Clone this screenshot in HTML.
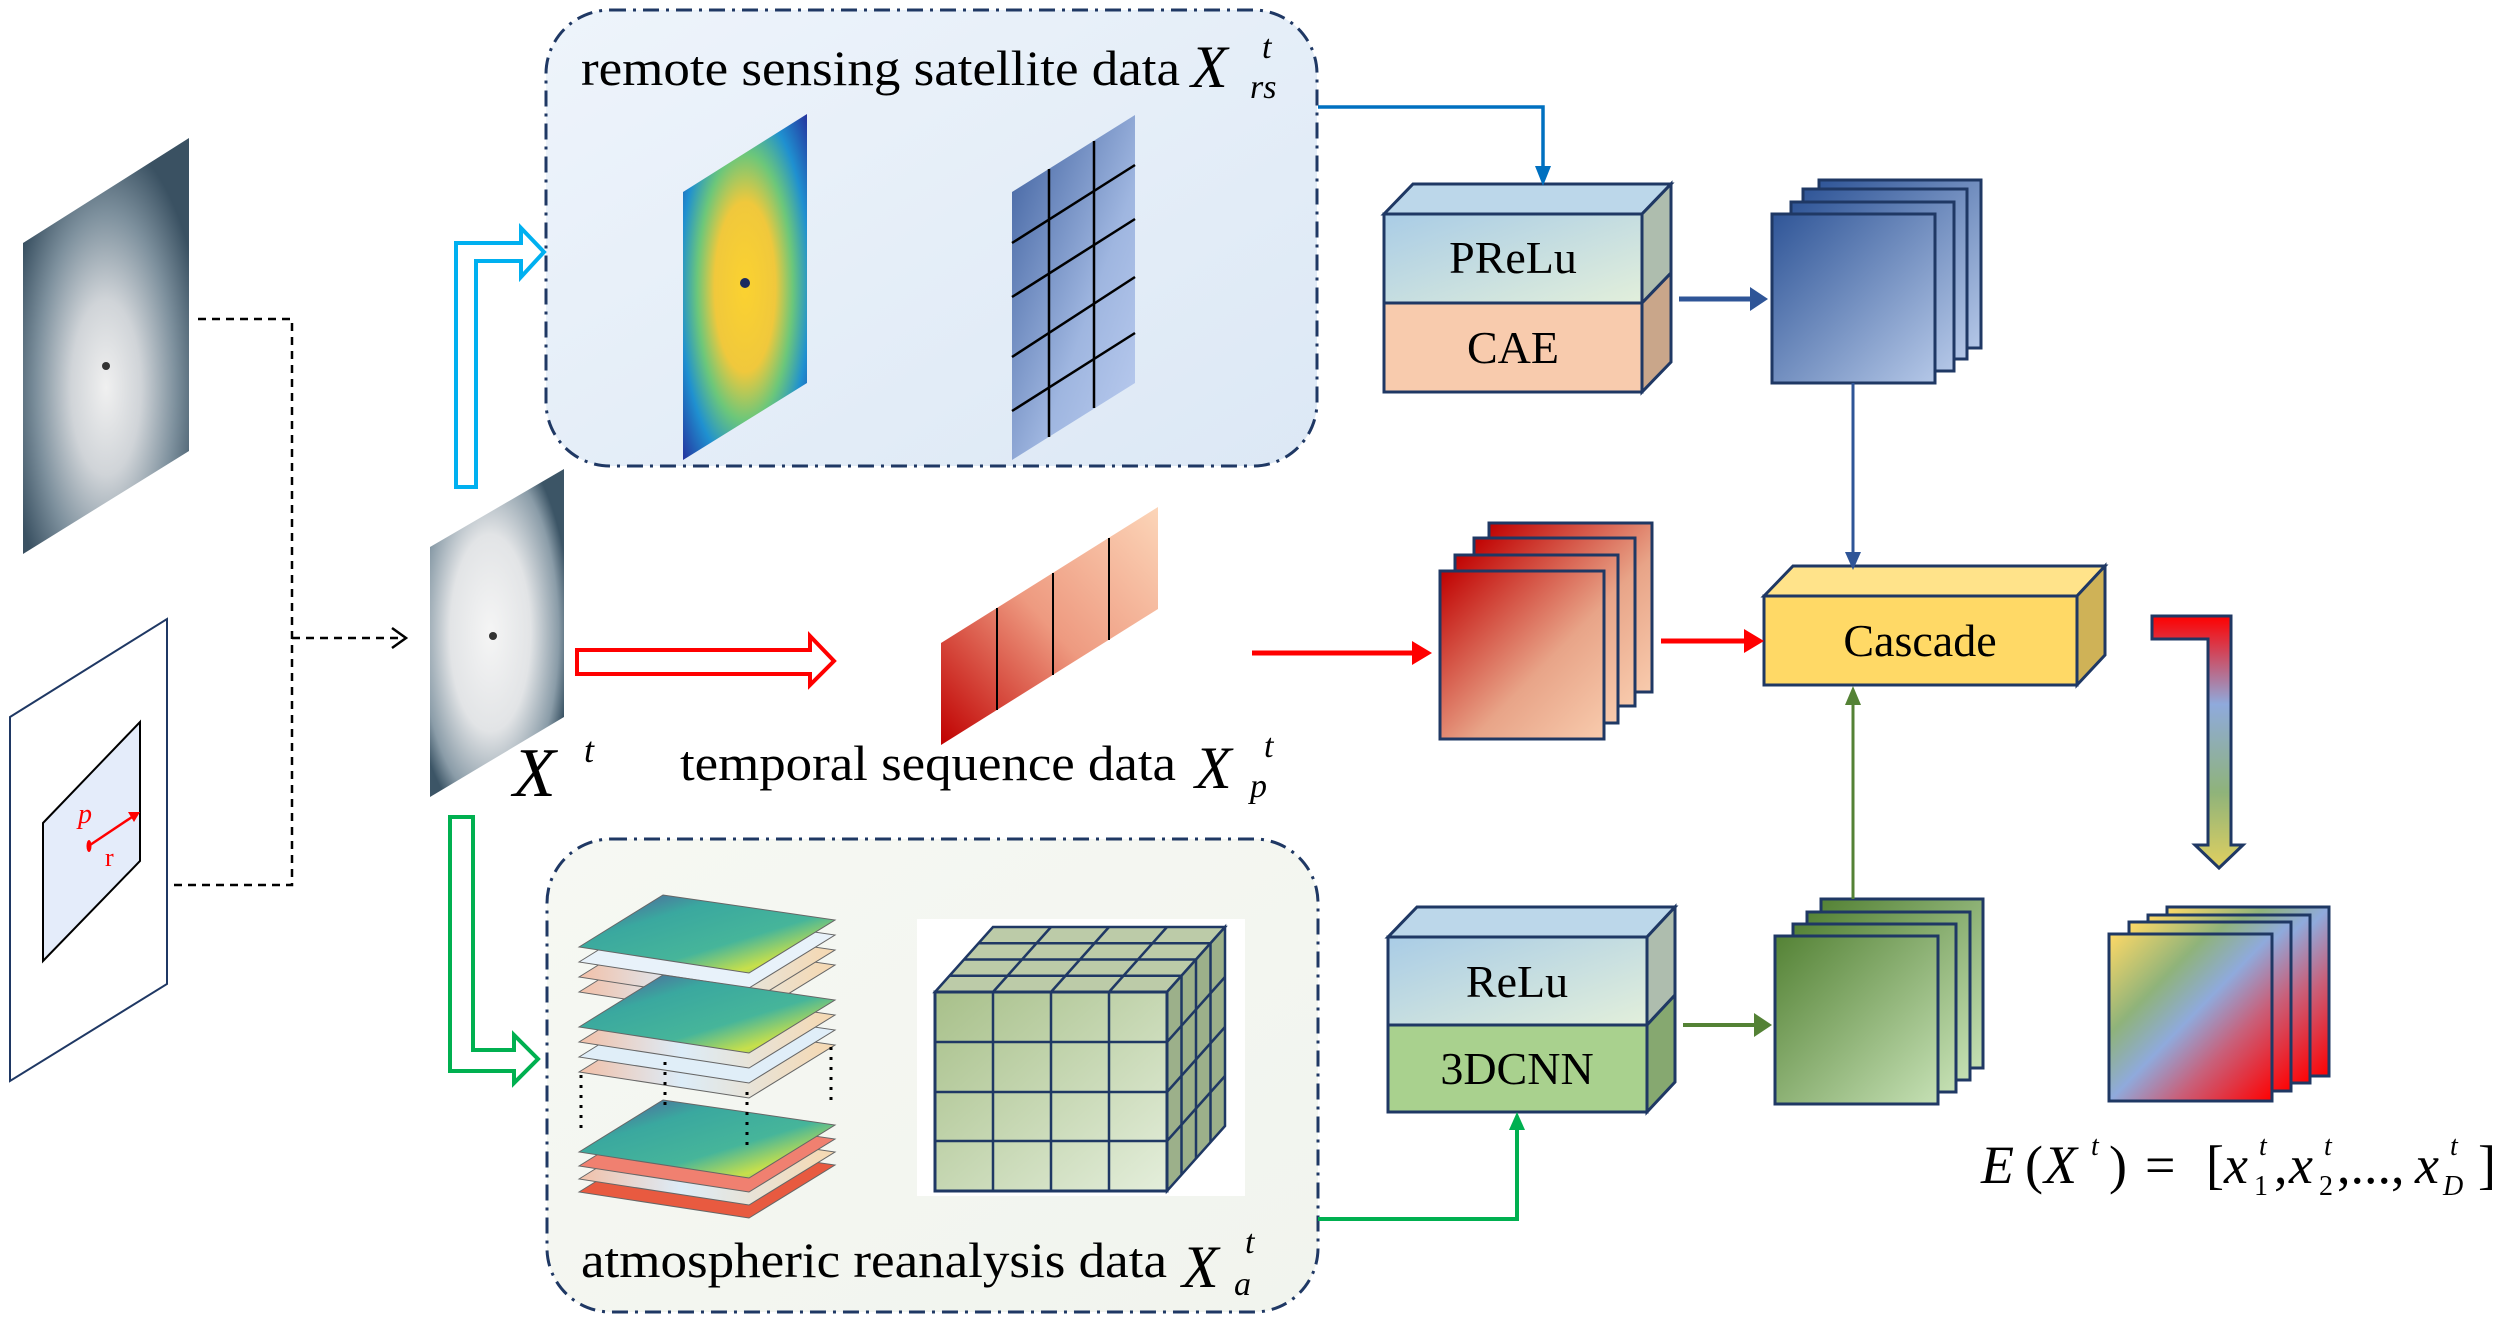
<!DOCTYPE html>
<html><head><meta charset="utf-8"><style>
html,body{margin:0;padding:0;background:#fff;}
svg{display:block;}
text{font-family:"Liberation Serif",serif;}
</style></head><body>
<svg width="2500" height="1321" viewBox="0 0 2500 1321" xmlns="http://www.w3.org/2000/svg">
<defs>
<linearGradient id="bgTop" x1="0" y1="0" x2="1" y2="1"><stop offset="0" stop-color="#eef4fb"/><stop offset="1" stop-color="#dce8f5"/></linearGradient>
<linearGradient id="bgBot" x1="0" y1="0" x2="1" y2="1"><stop offset="0" stop-color="#f6f8f3"/><stop offset="1" stop-color="#f1f4ee"/></linearGradient>
<radialGradient id="hur" cx="0.5" cy="0.6" r="0.6"><stop offset="0" stop-color="#f0f0f0"/><stop offset="0.35" stop-color="#d0d4d8"/><stop offset="0.7" stop-color="#7d909d"/><stop offset="1" stop-color="#3a5162"/></radialGradient>
<radialGradient id="hur2" cx="0.45" cy="0.5" r="0.6"><stop offset="0" stop-color="#f5f5f5"/><stop offset="0.5" stop-color="#e2e4e6"/><stop offset="0.85" stop-color="#8a9ca8"/><stop offset="1" stop-color="#3c5566"/></radialGradient>
<radialGradient id="sat" cx="0.5" cy="0.5" r="0.7"><stop offset="0" stop-color="#fbd230"/><stop offset="0.35" stop-color="#f0c83c"/><stop offset="0.55" stop-color="#6cc77a"/><stop offset="0.75" stop-color="#1f90d0"/><stop offset="1" stop-color="#2536a0"/></radialGradient>
<linearGradient id="gridG" x1="0" y1="0" x2="1" y2="1"><stop offset="0" stop-color="#3d5f9e"/><stop offset="0.6" stop-color="#9fb6e0"/><stop offset="1" stop-color="#bccdf0"/></linearGradient>
<linearGradient id="redP" x1="0" y1="1" x2="1" y2="0"><stop offset="0" stop-color="#c00000"/><stop offset="0.5" stop-color="#ee9a80"/><stop offset="1" stop-color="#fcd5b8"/></linearGradient>
<linearGradient id="blueS" x1="0" y1="0" x2="1" y2="1"><stop offset="0" stop-color="#2f5597"/><stop offset="1" stop-color="#b4c7e7"/></linearGradient>
<linearGradient id="redS" x1="0" y1="0" x2="1" y2="1"><stop offset="0" stop-color="#c00000"/><stop offset="0.6" stop-color="#e8a488"/><stop offset="1" stop-color="#f8cbad"/></linearGradient>
<linearGradient id="greenS" x1="0" y1="0" x2="1" y2="1"><stop offset="0" stop-color="#548235"/><stop offset="1" stop-color="#c5e0b4"/></linearGradient>
<linearGradient id="outS" x1="0" y1="0" x2="1" y2="1"><stop offset="0" stop-color="#ffd966"/><stop offset="0.3" stop-color="#8fb37a"/><stop offset="0.5" stop-color="#8faadc"/><stop offset="0.7" stop-color="#c8607a"/><stop offset="1" stop-color="#ff0000"/></linearGradient>
<linearGradient id="topFace" x1="0" y1="0" x2="1" y2="1"><stop offset="0" stop-color="#a9cce6"/><stop offset="1" stop-color="#e2efdb"/></linearGradient>
<linearGradient id="lArrow" x1="0" y1="0" x2="0" y2="1"><stop offset="0" stop-color="#ff0000"/><stop offset="0.35" stop-color="#8faadc"/><stop offset="0.7" stop-color="#8fb37a"/><stop offset="1" stop-color="#e0d060"/></linearGradient>
<linearGradient id="cubeF" x1="0" y1="0" x2="1" y2="1"><stop offset="0" stop-color="#a8c08a"/><stop offset="1" stop-color="#e4eedb"/></linearGradient>
<linearGradient id="teal" x1="0" y1="0" x2="1" y2="1"><stop offset="0" stop-color="#5a4f9a"/><stop offset="0.3" stop-color="#3aa89f"/><stop offset="0.6" stop-color="#46b59a"/><stop offset="0.8" stop-color="#c8e04a"/><stop offset="1" stop-color="#3aa89f"/></linearGradient>
<linearGradient id="layerG" x1="0" y1="0" x2="1" y2="0"><stop offset="0" stop-color="#f2c0a8"/><stop offset="0.4" stop-color="#dcecf8"/><stop offset="1" stop-color="#f6d8b0"/></linearGradient>
</defs>

<!-- Top box -->
<rect x="546" y="10" width="771" height="456" rx="64" fill="url(#bgTop)" stroke="#1f3864" stroke-width="3" stroke-dasharray="16 7 3 7"/>
<text x="581" y="85" font-size="50" textLength="599" lengthAdjust="spacingAndGlyphs">remote sensing satellite data</text>
<text x="1191" y="87" font-size="60" font-style="italic">X</text>
<text x="1262" y="58" font-size="34" font-style="italic">t</text>
<text x="1250" y="98" font-size="34" font-style="italic">rs</text>
<polygon points="683,192 807,114 807,383 683,460" fill="url(#sat)"/>
<circle cx="745" cy="283" r="5" fill="#1a2a60"/>
<polygon points="1012,192 1135,115 1135,383 1012,460" fill="url(#gridG)"/>
<g stroke="#000" stroke-width="2.5">
<line x1="1049" y1="169" x2="1049" y2="437"/><line x1="1094" y1="141" x2="1094" y2="408"/>
<line x1="1012" y1="243" x2="1135" y2="165"/><line x1="1012" y1="297" x2="1135" y2="219"/>
<line x1="1012" y1="357" x2="1135" y2="277"/><line x1="1012" y1="411" x2="1135" y2="333"/>
</g>

<!-- Left images -->
<polygon points="23,243 189,138 189,451 23,554" fill="url(#hur)"/>
<circle cx="106" cy="366" r="4" fill="#333"/>
<polygon points="10,717 167,619 167,984 10,1081" fill="#fff" stroke="#1f3864" stroke-width="2"/>
<polygon points="43,823 140,722 140,861 43,961" fill="#e4ecfa" stroke="#000" stroke-width="2"/>
<text x="78" y="823" font-size="28" fill="#f00" font-style="italic">p</text>
<text x="105" y="866" font-size="26" fill="#f00">r</text>
<line x1="90" y1="845" x2="135" y2="815" stroke="#f00" stroke-width="2.5"/>
<path d="M128,812 L140,812 L134,822z" fill="#f00"/>
<ellipse cx="89" cy="846" rx="2.5" ry="6" fill="#f00"/>

<!-- dashed connectors -->
<g stroke="#000" stroke-width="2.5" stroke-dasharray="8 6" fill="none">
<path d="M198,319 H292 V885 H172"/>
<path d="M292,638 H400"/>
</g>
<path d="M392,628 L406,638 L392,648" fill="none" stroke="#000" stroke-width="2.5"/>

<!-- Center image -->
<polygon points="430,547 564,469 564,717 430,797" fill="url(#hur2)"/>
<circle cx="493" cy="636" r="4" fill="#333"/>
<text x="513" y="796" font-size="70" font-style="italic">X</text>
<text x="584" y="762" font-size="36" font-style="italic">t</text>

<!-- hollow arrows -->
<polygon points="456,487 456,243 521,243 521,228 544,252 521,277 521,261 476,261 476,487" fill="#fff" stroke="#00b0f0" stroke-width="4"/>
<polygon points="577,650 810,650 810,636 834,661 810,685 810,674 577,674" fill="#fff" stroke="#ff0000" stroke-width="4"/>
<polygon points="450,817 473,817 473,1050 514,1050 514,1035 538,1059 514,1083 514,1071 450,1071" fill="#fff" stroke="#00b050" stroke-width="4"/>

<!-- temporal -->
<polygon points="941,643 1158,507 1158,609 941,745" fill="url(#redP)"/>
<g stroke="#000" stroke-width="2"><line x1="997" y1="608" x2="997" y2="710"/><line x1="1053" y1="573" x2="1053" y2="675"/><line x1="1109" y1="538" x2="1109" y2="640"/></g>
<text x="680" y="780" font-size="50" textLength="496" lengthAdjust="spacingAndGlyphs">temporal sequence data</text>
<text x="1195" y="788" font-size="60" font-style="italic">X</text>
<text x="1264" y="757" font-size="34" font-style="italic">t</text>
<text x="1250" y="797" font-size="34" font-style="italic">p</text>

<!-- Bottom box -->
<rect x="547" y="839" width="771" height="473" rx="64" fill="url(#bgBot)" stroke="#1f3864" stroke-width="3" stroke-dasharray="16 7 3 7"/>
<text x="581" y="1277" font-size="50" textLength="586" lengthAdjust="spacingAndGlyphs">atmospheric reanalysis data</text>
<text x="1182" y="1287" font-size="60" font-style="italic">X</text>
<text x="1245" y="1253" font-size="34" font-style="italic">t</text>
<text x="1234" y="1295" font-size="34" font-style="italic">a</text>

<!-- layer stacks -->
<g stroke="#666" stroke-width="1">
<g transform="translate(0,45)"><polygon points="579,947 663,895 835,920 749,973" fill="url(#layerG)"/></g>
<g transform="translate(0,30)"><polygon points="579,947 663,895 835,920 749,973" fill="url(#layerG)"/></g>
<g transform="translate(0,15)"><polygon points="579,947 663,895 835,920 749,973" fill="#e8f2fa"/></g>
<polygon points="579,947 663,895 835,920 749,973" fill="url(#teal)"/>
<g transform="translate(0,125)"><polygon points="579,947 663,895 835,920 749,973" fill="url(#layerG)"/></g>
<g transform="translate(0,110)"><polygon points="579,947 663,895 835,920 749,973" fill="#e0eef8"/></g>
<g transform="translate(0,95)"><polygon points="579,947 663,895 835,920 749,973" fill="url(#layerG)"/></g>
<g transform="translate(0,80)"><polygon points="579,947 663,895 835,920 749,973" fill="url(#teal)"/></g>
<g transform="translate(0,245)"><polygon points="579,947 663,895 835,920 749,973" fill="#e85a40"/></g>
<g transform="translate(0,232)"><polygon points="579,947 663,895 835,920 749,973" fill="url(#layerG)"/></g>
<g transform="translate(0,219)"><polygon points="579,947 663,895 835,920 749,973" fill="#f08070"/></g>
<g transform="translate(0,205)"><polygon points="579,947 663,895 835,920 749,973" fill="url(#teal)"/></g>
</g>
<g stroke="#000" stroke-width="3" stroke-dasharray="3 7">
<line x1="581" y1="1075" x2="581" y2="1135"/><line x1="665" y1="1062" x2="665" y2="1110"/><line x1="747" y1="1092" x2="747" y2="1150"/><line x1="831" y1="1047" x2="831" y2="1102"/>
</g>

<!-- cube -->
<rect x="917" y="919" width="328" height="277" fill="#fff"/>
<polygon points="935,992 993,927 1225,927 1167,992" fill="#bccba8" stroke="#1f3864" stroke-width="2.5"/>
<polygon points="1167,992 1225,927 1225,1126 1167,1191" fill="#9cb08a" stroke="#1f3864" stroke-width="2.5"/>
<rect x="935" y="992" width="232" height="199" fill="url(#cubeF)" stroke="#1f3864" stroke-width="3"/>
<g stroke="#1f3864" stroke-width="2.5">
<line x1="993" y1="992" x2="993" y2="1191"/><line x1="1051" y1="992" x2="1051" y2="1191"/><line x1="1109" y1="992" x2="1109" y2="1191"/>
<line x1="935" y1="1042" x2="1167" y2="1042"/><line x1="935" y1="1092" x2="1167" y2="1092"/><line x1="935" y1="1141" x2="1167" y2="1141"/>
<line x1="993" y1="992" x2="1051" y2="927"/><line x1="1051" y1="992" x2="1109" y2="927"/><line x1="1109" y1="992" x2="1167" y2="927"/>
<line x1="949.5" y1="975.75" x2="1181.5" y2="975.75"/><line x1="964" y1="959.5" x2="1196" y2="959.5"/><line x1="978.5" y1="943.25" x2="1210.5" y2="943.25"/>
<line x1="1181.5" y1="975.75" x2="1181.5" y2="1174.75"/><line x1="1196" y1="959.5" x2="1196" y2="1158.5"/><line x1="1210.5" y1="943.25" x2="1210.5" y2="1142.25"/>
<line x1="1167" y1="1042" x2="1225" y2="977"/><line x1="1167" y1="1092" x2="1225" y2="1027"/><line x1="1167" y1="1141" x2="1225" y2="1076"/>
</g>

<!-- PReLu/CAE cube -->
<polygon points="1384,214 1413,184 1671,184 1642,214" fill="#bcd7ea" stroke="#1f3864" stroke-width="3"/>
<polygon points="1642,214 1671,184 1671,273 1642,303" fill="#aebdae" stroke="#1f3864" stroke-width="3"/>
<polygon points="1642,303 1671,273 1671,362 1642,392" fill="#c9a68a" stroke="#1f3864" stroke-width="3"/>
<rect x="1384" y="214" width="258" height="89" fill="url(#topFace)" stroke="#1f3864" stroke-width="3"/>
<rect x="1384" y="303" width="258" height="89" fill="#f8cbad" stroke="#1f3864" stroke-width="3"/>
<text x="1513" y="273" font-size="46" text-anchor="middle">PReLu</text>
<text x="1513" y="363" font-size="46" text-anchor="middle">CAE</text>

<!-- ReLu/3DCNN cube -->
<polygon points="1388,937 1417,907 1675,907 1647,937" fill="#bcd7ea" stroke="#1f3864" stroke-width="3"/>
<polygon points="1647,937 1675,907 1675,995 1647,1025" fill="#aebdae" stroke="#1f3864" stroke-width="3"/>
<polygon points="1647,1025 1675,995 1675,1082 1647,1112" fill="#86a870" stroke="#1f3864" stroke-width="3"/>
<rect x="1388" y="937" width="259" height="88" fill="url(#topFace)" stroke="#1f3864" stroke-width="3"/>
<rect x="1388" y="1025" width="259" height="87" fill="#a9d18e" stroke="#1f3864" stroke-width="3"/>
<text x="1517" y="997" font-size="46" text-anchor="middle">ReLu</text>
<text x="1517" y="1084" font-size="46" text-anchor="middle">3DCNN</text>

<!-- Cascade -->
<polygon points="1764,596 1793,566 2105,566 2077,596" fill="#ffe38a" stroke="#1f3864" stroke-width="3"/>
<polygon points="2077,596 2105,566 2105,655 2077,685" fill="#cfb257" stroke="#1f3864" stroke-width="3"/>
<rect x="1764" y="596" width="313" height="89" fill="#ffd966" stroke="#1f3864" stroke-width="3"/>
<text x="1920" y="656" font-size="46" text-anchor="middle">Cascade</text>

<!-- stacks -->
<g stroke="#1f3864" stroke-width="3">
<rect x="1819" y="180" width="162" height="168" fill="url(#blueS)"/>
<rect x="1803" y="189" width="164" height="170" fill="url(#blueS)"/>
<rect x="1791" y="202" width="163" height="169" fill="url(#blueS)"/>
<rect x="1772" y="214" width="163" height="169" fill="url(#blueS)"/>
<rect x="1489" y="523" width="163" height="169" fill="url(#redS)"/>
<rect x="1474" y="538" width="161" height="168" fill="url(#redS)"/>
<rect x="1455" y="555" width="163" height="168" fill="url(#redS)"/>
<rect x="1440" y="571" width="164" height="168" fill="url(#redS)"/>
<rect x="1821" y="899" width="162" height="169" fill="url(#greenS)"/>
<rect x="1807" y="912" width="163" height="168" fill="url(#greenS)"/>
<rect x="1793" y="924" width="163" height="168" fill="url(#greenS)"/>
<rect x="1775" y="936" width="163" height="168" fill="url(#greenS)"/>
<rect x="2167" y="907" width="162" height="169" fill="url(#outS)"/>
<rect x="2148" y="915" width="162" height="168" fill="url(#outS)"/>
<rect x="2129" y="922" width="162" height="169" fill="url(#outS)"/>
<rect x="2109" y="934" width="163" height="167" fill="url(#outS)"/>
</g>

<!-- connectors -->
<path d="M1318,107 H1543 V172" fill="none" stroke="#0070c0" stroke-width="3.5"/>
<path d="M1535,166 L1543,186 L1551,166z" fill="#0070c0"/>
<line x1="1679" y1="299" x2="1752" y2="299" stroke="#2f5597" stroke-width="5"/>
<path d="M1750,287 L1768,299 L1750,311z" fill="#2f5597"/>
<line x1="1853" y1="383" x2="1853" y2="552" stroke="#2f5597" stroke-width="3"/>
<path d="M1845,552 L1853,570 L1861,552z" fill="#2f5597"/>
<line x1="1252" y1="653" x2="1414" y2="653" stroke="#f00" stroke-width="5"/>
<path d="M1412,641 L1432,653 L1412,665z" fill="#f00"/>
<line x1="1661" y1="641" x2="1746" y2="641" stroke="#f00" stroke-width="5"/>
<path d="M1744,629 L1764,641 L1744,653z" fill="#f00"/>
<line x1="1853" y1="899" x2="1853" y2="702" stroke="#548235" stroke-width="3"/>
<path d="M1845,705 L1853,686 L1861,705z" fill="#548235"/>
<path d="M1318,1219 H1517 V1128" fill="none" stroke="#00b050" stroke-width="4"/>
<path d="M1509,1130 L1517,1112 L1525,1130z" fill="#00b050"/>
<line x1="1683" y1="1025" x2="1756" y2="1025" stroke="#548235" stroke-width="4"/>
<path d="M1754,1013 L1772,1025 L1754,1037z" fill="#548235"/>

<!-- L arrow -->
<polygon points="2152,616 2231,616 2231,845 2243,845 2219,868 2195,845 2208,845 2208,639 2152,639" fill="url(#lArrow)" stroke="#1f3864" stroke-width="3"/>

<!-- formula -->
<g font-size="54">
<text x="1981" y="1183" font-style="italic">E</text>
<text x="2025" y="1183">(</text>
<text x="2044" y="1183" font-style="italic">X</text>
<text x="2109" y="1183">)</text>
<text x="2145" y="1183">=</text>
<text x="2206" y="1183">[</text>
<text x="2224" y="1183" font-style="italic">x</text>
<text x="2274" y="1183">,</text>
<text x="2289" y="1183" font-style="italic">x</text>
<text x="2337" y="1183">,...,</text>
<text x="2415" y="1183" font-style="italic">x</text>
<text x="2478" y="1183">]</text>
</g>
<g font-size="28" font-style="italic">
<text x="2091" y="1155">t</text>
<text x="2259" y="1155">t</text>
<text x="2324" y="1155">t</text>
<text x="2450" y="1155">t</text>
<text x="2443" y="1195">D</text>
</g>
<g font-size="28">
<text x="2254" y="1195">1</text>
<text x="2319" y="1195">2</text>
</g>
</svg>
</body></html>
